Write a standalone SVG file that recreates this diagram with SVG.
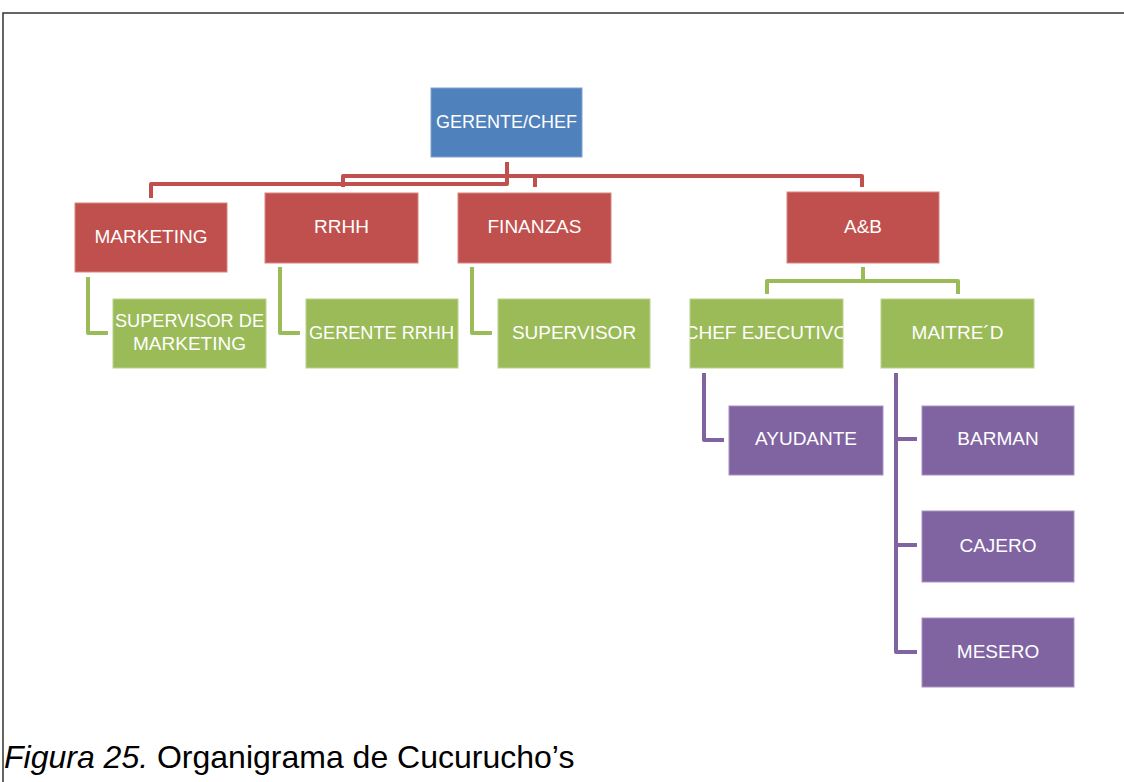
<svg xmlns="http://www.w3.org/2000/svg" width="1124" height="782" viewBox="0 0 1124 782">
<style>
.box{stroke-width:1}
.b{fill:#4F81BD;stroke:#7FA3D0}
.r{fill:#C0504D;stroke:#D98582}
.g{fill:#9BBB59;stroke:#BCD38E}
.p{fill:#8064A2;stroke:#A892C2}
.t{font-family:"Liberation Sans",Arial,sans-serif;font-size:19px;fill:#FFFFFF;text-anchor:middle}
.cr{fill:none;stroke:#C0504D;stroke-width:4;stroke-linejoin:round}
.cg{fill:none;stroke:#9BBB59;stroke-width:4;stroke-linejoin:round}
.cp{fill:none;stroke:#8064A2;stroke-width:4;stroke-linejoin:round}
.cap{font-family:"Liberation Sans",Arial,sans-serif;font-size:32px;fill:#000}
</style>
<defs>
<clipPath id="clipChef"><rect x="690" y="299" width="153" height="69"/></clipPath>
</defs>
<rect width="1124" height="782" fill="#FFFFFF"/>
<path d="M3,782 V13 H1124" fill="none" stroke="#333" stroke-width="1.5"/>
<g id="connectors">
<path class="cr" d="M507,162 V184 H151 V198"/>
<path class="cr" d="M343,187 V176 H862 V187"/>
<path class="cr" d="M535,176 V187"/>
<path class="cg" d="M88,277 V333 H108"/>
<path class="cg" d="M280,267 V333 H300"/>
<path class="cg" d="M472,267 V333 H492"/>
<path class="cg" d="M863,267 V281 M767,294 V281 H958 V294"/>
<path class="cp" d="M704,373 V440 H724"/>
<path class="cp" d="M896,373 V652 H917 M896,439 H917 M896,545 H917"/>
</g>
<g id="n-gerente"><rect class="box b" x="431" y="88" width="151" height="69"/><text class="t" x="506.5" y="128" textLength="141" lengthAdjust="spacingAndGlyphs">GERENTE/CHEF</text></g>
<g id="n-marketing"><rect class="box r" x="75" y="203" width="152" height="69"/><text class="t" x="151" y="243">MARKETING</text></g>
<g id="n-rrhh"><rect class="box r" x="265" y="193" width="153" height="70"/><text class="t" x="341.5" y="233">RRHH</text></g>
<g id="n-finanzas"><rect class="box r" x="458" y="193" width="153" height="70"/><text class="t" x="534.5" y="233">FINANZAS</text></g>
<g id="n-ab"><rect class="box r" x="787" y="192" width="152" height="71"/><text class="t" x="863" y="233">A&amp;B</text></g>
<g id="n-supmkt"><rect class="box g" x="113" y="299" width="153" height="69"/><text class="t" x="189.5" y="327" textLength="149" lengthAdjust="spacingAndGlyphs">SUPERVISOR DE</text><text class="t" x="189.5" y="350">MARKETING</text></g>
<g id="n-gerrrhh"><rect class="box g" x="306" y="299" width="152" height="69"/><text class="t" x="381.5" y="339" textLength="145" lengthAdjust="spacingAndGlyphs">GERENTE RRHH</text></g>
<g id="n-supervisor"><rect class="box g" x="498" y="299" width="152" height="69"/><text class="t" x="574" y="339">SUPERVISOR</text></g>
<g id="n-chef"><rect class="box g" x="690" y="299" width="153" height="69"/><text class="t" x="766.5" y="339" clip-path="url(#clipChef)">CHEF EJECUTIVO</text></g>
<g id="n-maitre"><rect class="box g" x="881" y="299" width="153" height="69"/><text class="t" x="957.5" y="339">MAITRE´D</text></g>
<g id="n-ayudante"><rect class="box p" x="729" y="406" width="154" height="69"/><text class="t" x="806" y="445">AYUDANTE</text></g>
<g id="n-barman"><rect class="box p" x="922" y="406" width="152" height="69"/><text class="t" x="998" y="445">BARMAN</text></g>
<g id="n-cajero"><rect class="box p" x="922" y="511" width="152" height="71"/><text class="t" x="998" y="552">CAJERO</text></g>
<g id="n-mesero"><rect class="box p" x="922" y="618" width="152" height="69"/><text class="t" x="998" y="658">MESERO</text></g>
<text class="cap" x="4" y="768"><tspan font-style="italic">Figura 25.</tspan> Organigrama de Cucurucho’s</text>
</svg>
